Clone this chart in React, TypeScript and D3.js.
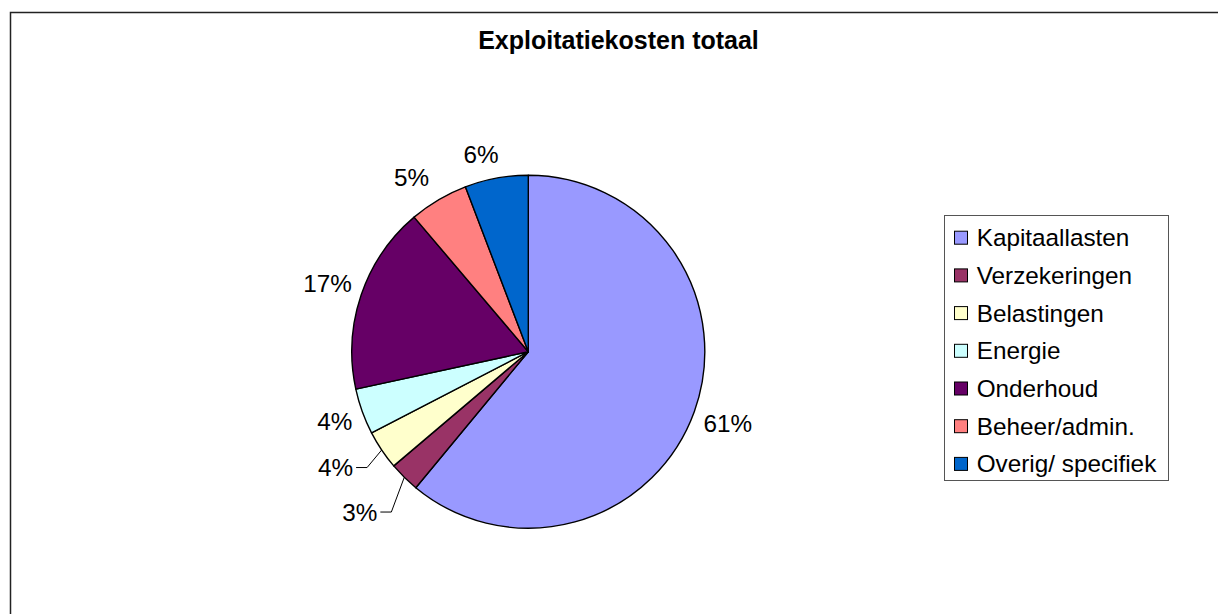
import React from "react";
import * as d3 from "d3";

const categories = [
  "Kapitaallasten",
  "Verzekeringen",
  "Belastingen",
  "Energie",
  "Onderhoud",
  "Beheer/admin.",
  "Overig/ specifiek",
];
const values = [61.0, 2.8, 3.6, 4.2, 17.2, 5.4, 5.8];
const colors = ["#9999FF", "#993366", "#FFFFCC", "#CCFFFF", "#660066", "#FF8080", "#0066CC"];
const title = "Exploitatiekosten totaal";

// layout
const W = 1218;
const H = 614;
const CX = 528.3;
const CY = 351.7;
const R = 176.5;
const GAP = 9;
const FS = 24.3;
const FONT = "'Liberation Sans', Arial, sans-serif";
// label nudges (Excel moves some labels; leader = drawn with a leader line)
const labelNudge: Record<string, { d: [number, number]; leader: boolean }> = {
  Belastingen: { d: [-21.5, 1], leader: true },
  Verzekeringen: { d: [-24, 14], leader: true },
  "Beheer/admin.": { d: [-13, 1], leader: false },
  "Overig/ specifiek": { d: [-11, -1], leader: false },
};

export default function App() {
  const total = d3.sum(values);
  const pie = d3
    .pie<number>()
    .sort(null)
    .value((d) => d)
    .startAngle(0)
    .endAngle(2 * Math.PI);
  const arcs = pie(values);
  const arcGen = d3.arc<d3.PieArcDatum<number>>().innerRadius(0).outerRadius(R);
  const polar = (a: number, r: number): [number, number] => [
    CX + r * Math.sin(a),
    CY - r * Math.cos(a),
  ];

  const legendX = 944.5;
  const legendY = 215.5;
  const legendW = 224;
  const legendH = 265;
  const rowH = 37.7;
  const firstRow = 237.7;

  return (
    <svg
      width={W}
      height={H}
      style={{ position: "absolute", left: 0, top: 0, background: "#fff" }}
      fontFamily={FONT}
    >
      <rect x={0} y={0} width={W} height={H} fill="#fff" />
      <rect x={10.5} y={12.5} width={1400} height={800} fill="none" stroke="#222" strokeWidth={1.5} />
      <text x={618.5} y={49.3} textAnchor="middle" fontSize={25} fontWeight="bold" fill="#000">
        {title}
      </text>

      <g>
        {arcs.map((a, i) => (
          <path
            key={categories[i]}
            d={arcGen(a) || ""}
            transform={`translate(${CX},${CY})`}
            fill={colors[i]}
            stroke="#000"
            strokeWidth={1.4}
            strokeLinejoin="round"
          />
        ))}
      </g>

      <g>
        {arcs.map((a, i) => {
          const mid = (a.startAngle + a.endAngle) / 2;
          const txt = `${Math.round((values[i] / total) * 100)}%`;
          const tw = (txt.length === 2 ? 1.445 : 2.001) * FS;
          const th = 22;
          const half = Math.abs(Math.sin(mid)) * tw / 2 + Math.abs(Math.cos(mid)) * th / 2;
          let [lx, ly] = polar(mid, R + GAP + half);
          const nudge = labelNudge[categories[i]];
          let leader: string | null = null;
          if (nudge) {
            lx += nudge.d[0];
            ly += nudge.d[1];
            if (nudge.leader) {
              const [ex, ey] = polar(mid, R);
              const endX = lx + tw / 2 + 3;
              const bendX = endX + 11;
              leader = `M${ex},${ey}L${bendX},${ly}L${endX},${ly}`;
            }
          }
          return (
            <g key={categories[i]}>
              {leader && <path d={leader} fill="none" stroke="#000" strokeWidth={1} />}
              <text x={lx} y={ly} textAnchor="middle" dy="0.35em" fontSize={FS} fill="#000">
                {txt}
              </text>
            </g>
          );
        })}
      </g>

      <g>
        <rect x={legendX} y={legendY} width={legendW} height={legendH} fill="#fff" stroke="#555" strokeWidth={1} />
        {categories.map((c, i) => {
          const cy = firstRow + i * rowH;
          return (
            <g key={c}>
              <rect x={954.5} y={cy - 6.5} width={13} height={13} fill={colors[i]} stroke="#000" strokeWidth={1} />
              <text x={976.7} y={cy} dy="0.35em" fontSize={FS} fill="#000">
                {c}
              </text>
            </g>
          );
        })}
      </g>
    </svg>
  );
}
